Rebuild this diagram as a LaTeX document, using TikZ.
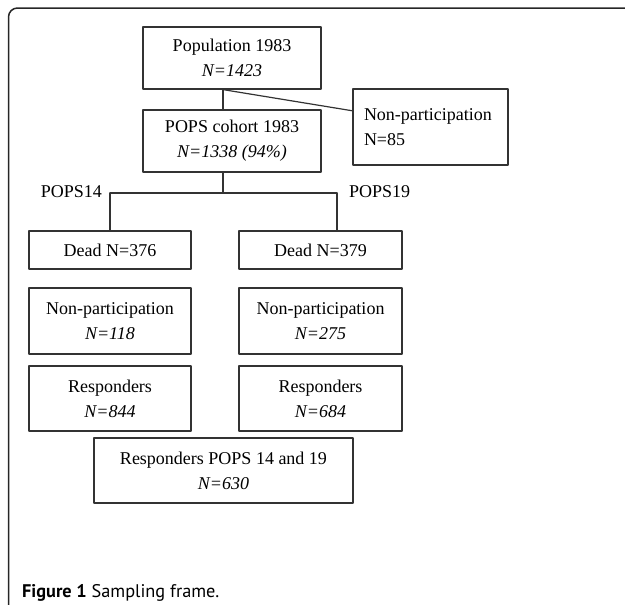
\documentclass[tikz,border=0pt]{standalone}
\usepackage{fontspec}
\setmainfont{Liberation Serif}
\newfontfamily\capfont{PT Sans}
\usetikzlibrary{calc}
\tikzset{
	laatikko/.style={draw=black!80, line width=1.2pt, inner sep=0pt, align=center, font=\fontsize{18}{25}\selectfont},
	viiva/.style={draw=black!80, line width=1.2pt},
}

\begin{document}
\begin{tikzpicture}[line cap=round,line join=round,x=1pt,y=-1pt]
		\useasboundingbox (0,0) rectangle (625,605);

		%kehys
		\draw[line width=1.5pt, color=black!85, rounded corners=9pt] (8.5,612) -- (8.5,8) -- (632,8);

		%laatikot ylhaalla
		\node[laatikko, minimum width=178pt, minimum height=62pt] (pop) at (232,58) {Population 1983\\\textit{N=1423}};
		\node[laatikko, minimum width=178pt, minimum height=62pt] (cohort) at (232,141) {POPS cohort 1983\\\textit{N=1338 (94\%)}};
		\node[laatikko, align=left, text width=133pt, inner xsep=11pt, minimum height=76pt] (nonpart) at (430.5,127) {Non-participation\\N=85};

		%vasen haara
		\node[laatikko, minimum width=162pt, minimum height=38pt] (dead14) at (110,250) {Dead N=376};
		\node[laatikko, minimum width=162pt, minimum height=66pt] (np14) at (110,321) {Non-participation\\\textit{N=118}};
		\node[laatikko, minimum width=162pt, minimum height=65pt] (resp14) at (110,398.5) {Responders\\\textit{N=844}};

		%oikea haara
		\node[laatikko, minimum width=163pt, minimum height=38pt] (dead19) at (320.5,250) {Dead N=379};
		\node[laatikko, minimum width=163pt, minimum height=66pt] (np19) at (320.5,321) {Non-participation\\\textit{N=275}};
		\node[laatikko, minimum width=163pt, minimum height=65pt] (resp19) at (320.5,398.5) {Responders\\\textit{N=684}};

		%molemmat
		\node[laatikko, minimum width=259pt, minimum height=65pt] (both) at (223.5,470.5) {Responders POPS 14 and 19\\\textit{N=630}};

		% viivat
		\coordinate (stem) at (223,193);
		\coordinate (p14) at (110,193);
		\coordinate (p19) at (337,193);
		\coordinate (npin) at ($(nonpart.north west)!0.29!(nonpart.south west)$);

		\draw[viiva] (pop.south -| stem) -- (cohort.north -| stem);
		\draw[viiva] (pop.south -| stem) -- (npin);
		\draw[viiva] (cohort.south -| stem) -- (stem);
		\draw[viiva] (p14) -- (p19);
		\draw[viiva] (p14) -- (p14 |- dead14.north);
		\draw[viiva] (p19) -- (p19 |- dead19.north);

		\node[left, inner sep=0pt, font=\fontsize{18}{25}\selectfont] (lab14) at ($(p14)+(-8,-1)$) {POPS14};
		\node[right, inner sep=0pt, font=\fontsize{18}{25}\selectfont] (lab19) at ($(p19)+(12,-1)$) {POPS19};

		% kuvateksti
		\node[anchor=base west, inner sep=0pt, font=\capfont\fontsize{18.3}{22}\selectfont] (kuvateksti) at (22,597) {\textbf{Figure 1} Sampling frame.};

	\end{tikzpicture}
\end{document}
